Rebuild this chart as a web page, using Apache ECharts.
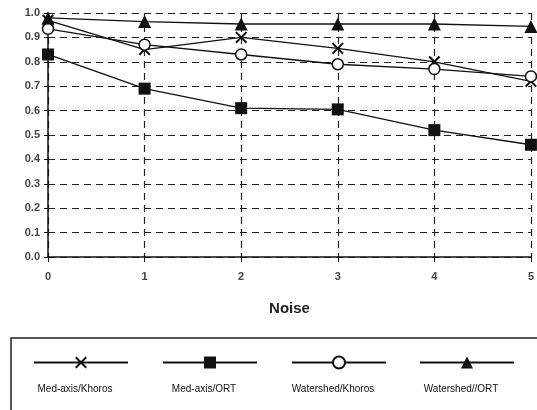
<!DOCTYPE html>
<html><head><meta charset="utf-8">
<script src="https://cdn.jsdelivr.net/npm/echarts@6/dist/echarts.min.js"></script>
<style>html,body{margin:0;padding:0;background:#fff}#c{width:537px;height:410px}</style>
</head><body><div id="c"></div>
<script>
const noise = [0, 1, 2, 3, 4, 5];
const yTicks = [0, 0.1, 0.2, 0.3, 0.4, 0.5, 0.6, 0.7, 0.8, 0.9, 1.0];
const seriesNames = ['Med-axis/Khoros', 'Med-axis/ORT', 'Watershed/Khoros', 'Watershed//ORT'];
const medAxisKhoros = [0.97, 0.85, 0.90, 0.855, 0.80, 0.72];
const medAxisORT = [0.83, 0.69, 0.61, 0.605, 0.52, 0.46];
const watershedKhoros = [0.935, 0.87, 0.83, 0.79, 0.77, 0.74];
const watershedORT = [0.98, 0.965, 0.955, 0.955, 0.955, 0.945];

const crossPath = 'path://M0,1.2L1.2,0L5,3.8L8.8,0L10,1.2L6.2,5L10,8.8L8.8,10L5,6.2L1.2,10L0,8.8L3.8,5Z';
const symbols = [crossPath, 'rect', 'circle', 'triangle'];
const fills = ['#111', '#111', '#fff', '#111'];
const sizes = [12, 12, 11, 13];
const dataSets = [medAxisKhoros, medAxisORT, watershedKhoros, watershedORT];

const series = seriesNames.map((n, i) => ({
  name: n, type: 'line',
  data: noise.map((x, j) => [x, dataSets[i][j]]),
  symbol: symbols[i], symbolSize: sizes[i],
  lineStyle: {color: '#111', width: 1.3},
  itemStyle: {color: fills[i], borderColor: '#111', borderWidth: i === 2 ? 1.5 : 0},
  z: 3 + i
}));

const legendCenters = [75, 204, 333, 461];
const legends = seriesNames.map((n, i) => ({
  data: [n], left: legendCenters[i] - 47, top: 350,
  itemWidth: 94, itemHeight: 15, itemGap: 0,
  formatter: () => '', selectedMode: false,
  textStyle: {fontSize: 1}
}));

const graphics = [{
  type: 'rect', shape: {x: 11, y: 338, width: 540, height: 90},
  style: {fill: 'none', stroke: '#222', lineWidth: 1.5}, silent: true
}].concat(seriesNames.map((n, i) => ({
  type: 'text', x: legendCenters[i], y: 389,
  style: {text: n, fill: '#111', font: '10px "Liberation Sans", Arial, sans-serif', textAlign: 'center', textVerticalAlign: 'middle'}
})));

const chart = echarts.init(document.getElementById('c'), null, {renderer: 'canvas'});
chart.setOption({
  animation: false,
  backgroundColor: '#fff',
  grid: {left: 48, right: 4, top: 13, bottom: 153},
  xAxis: {
    type: 'value', min: 0, max: 5, interval: 1,
    name: 'Noise', nameLocation: 'middle', nameGap: 44,
    nameTextStyle: {fontSize: 15, fontWeight: 'bold', color: '#222', fontFamily: 'Liberation Sans, Arial'},
    axisLine: {lineStyle: {color: '#111', width: 1.5}},
    axisTick: {show: true, length: 5, lineStyle: {color: '#111'}},
    axisLabel: {color: '#444', fontSize: 11, fontWeight: 'bold', margin: 14, fontFamily: 'Liberation Sans, Arial'},
    splitLine: {show: true, lineStyle: {color: '#222', type: [7, 5], width: 1.2}}
  },
  yAxis: {
    type: 'value', min: 0, max: 1, interval: 0.1,
    axisLine: {show: true, lineStyle: {color: '#111', width: 1.5}},
    axisTick: {show: true, length: 4, lineStyle: {color: '#111'}},
    axisLabel: {color: '#444', fontSize: 11, fontWeight: 'bold', margin: 8, fontFamily: 'Liberation Sans, Arial',
      formatter: v => (yTicks.find(t => Math.abs(t - v) < 1e-6) ?? v).toFixed(1)},
    splitLine: {show: true, lineStyle: {color: '#222', type: [7, 5], width: 1.2}}
  },
  legend: legends,
  graphic: graphics,
  series: series
});
</script></body></html>
